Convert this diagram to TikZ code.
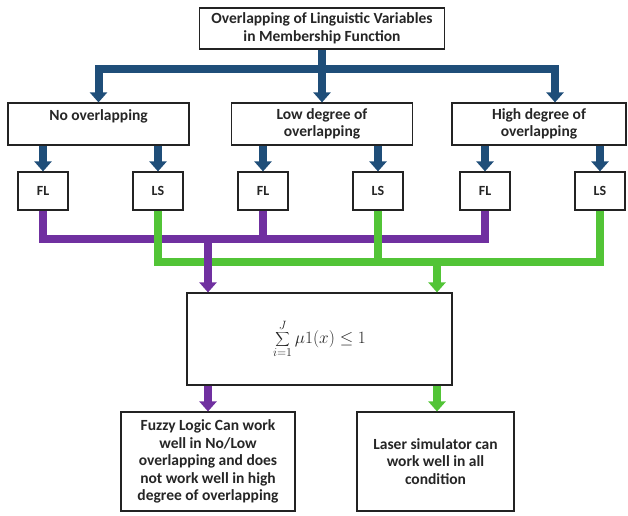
\documentclass[tikz,border=0pt]{standalone}
\usepackage{fontspec}
\setmainfont{Carlito}
\usetikzlibrary{arrows.meta, positioning, calc}
\definecolor{darkblue}{RGB}{31,78,121}
\definecolor{fuzzypurple}{RGB}{112,48,160}
\definecolor{lasergreen}{RGB}{82,196,54}
\definecolor{boxline}{RGB}{35,35,35}

\begin{document}
\begin{tikzpicture}[
        x=1pt, y=-1pt,
        box/.style={rectangle, draw=boxline, line width=1.2pt, fill=white, align=center, inner sep=1pt, text=black!85, font=\bfseries\fontsize{15.5}{17.5}\selectfont},
        tool/.style={box, minimum width=50pt, minimum height=38pt, font=\bfseries\fontsize{14}{15}\selectfont},
        arrow/.style={-{Triangle[width=17pt,length=10pt]}, line width=8pt},
        bar/.style={line width=8pt, line join=miter}
    ]
        \useasboundingbox (0,0) rectangle (628,515);

        \node[box, minimum width=245pt, minimum height=41pt] (top) at (322,28.5) {Overlapping of Linguistic Variables\\in Membership Function};

        \node[box, minimum width=181pt, minimum height=42pt] (none) at (98.5,124) {No overlapping\\\mbox{}};
        \node[box, minimum width=181pt, minimum height=42pt] (low) at (322,124) {Low degree of\\overlapping};
        \node[box, minimum width=174pt, minimum height=42pt] (high) at (539,124) {High degree of\\overlapping};

        \node[tool] (fl1) at (43,191) {FL};
        \node[tool] (ls1) at (158,191) {LS};
        \node[tool] (fl2) at (263,191) {FL};
        \node[tool] (ls2) at (378,191) {LS};
        \node[tool] (fl3) at (485,191) {FL};
        \node[tool] (ls3) at (600,191) {LS};

        \node[box, minimum width=265pt, minimum height=92pt, font=\fontsize{17}{20}\selectfont] (sum) at (319.5,339) {$\displaystyle\sum_{i=1}^{J}\mu 1(x)\leq 1$};

        \node[box, minimum width=174pt, minimum height=99pt] (fuzzy) at (208,461.5) {Fuzzy Logic Can work\\well in No/Low\\overlapping and does\\not work well in high\\degree of overlapping};
        \node[box, minimum width=157pt, minimum height=99pt] (laser) at (435.5,461.5) {Laser simulator can\\work well in all\\condition};

        % blue tree
        \coordinate (split) at (322,69);
        \draw[arrow, darkblue] (top.south) -- (low.north);
        \draw[arrow, darkblue] (split) -| (none.north);
        \draw[arrow, darkblue] (split) -| ([xshift=16pt]high.north);

        \draw[arrow, darkblue] (none.south -| fl1.north) -- (fl1.north);
        \draw[arrow, darkblue] (none.south -| ls1.north) -- (ls1.north);
        \draw[arrow, darkblue] (low.south -| fl2.north) -- (fl2.north);
        \draw[arrow, darkblue] (low.south -| ls2.north) -- (ls2.north);
        \draw[arrow, darkblue] (high.south -| fl3.north) -- (fl3.north);
        \draw[arrow, darkblue] (high.south -| ls3.north) -- (ls3.north);

        % FL and LS collectors
        \coordinate (fljoin) at (208,239);
        \coordinate (lsjoin) at (437,262);
        \draw[bar, fuzzypurple] (fl1.south) |- (fljoin) -| (fl3.south);
        \draw[bar, fuzzypurple] (fl2.south) -- (fl2.south |- fljoin);
        \draw[bar, lasergreen] (ls1.south) |- (lsjoin) -| (ls3.south);
        \draw[bar, lasergreen] (ls2.south) -- (ls2.south |- lsjoin);

        \draw[arrow, fuzzypurple] (fljoin) -- (sum.north -| fljoin);
        \draw[arrow, lasergreen] (lsjoin) -- (sum.north -| lsjoin);

        \draw[arrow, fuzzypurple] (sum.south -| fljoin) -- (fuzzy.north -| fljoin);
        \draw[arrow, lasergreen] (sum.south -| lsjoin) -- (laser.north -| lsjoin);
    \end{tikzpicture}
\end{document}
